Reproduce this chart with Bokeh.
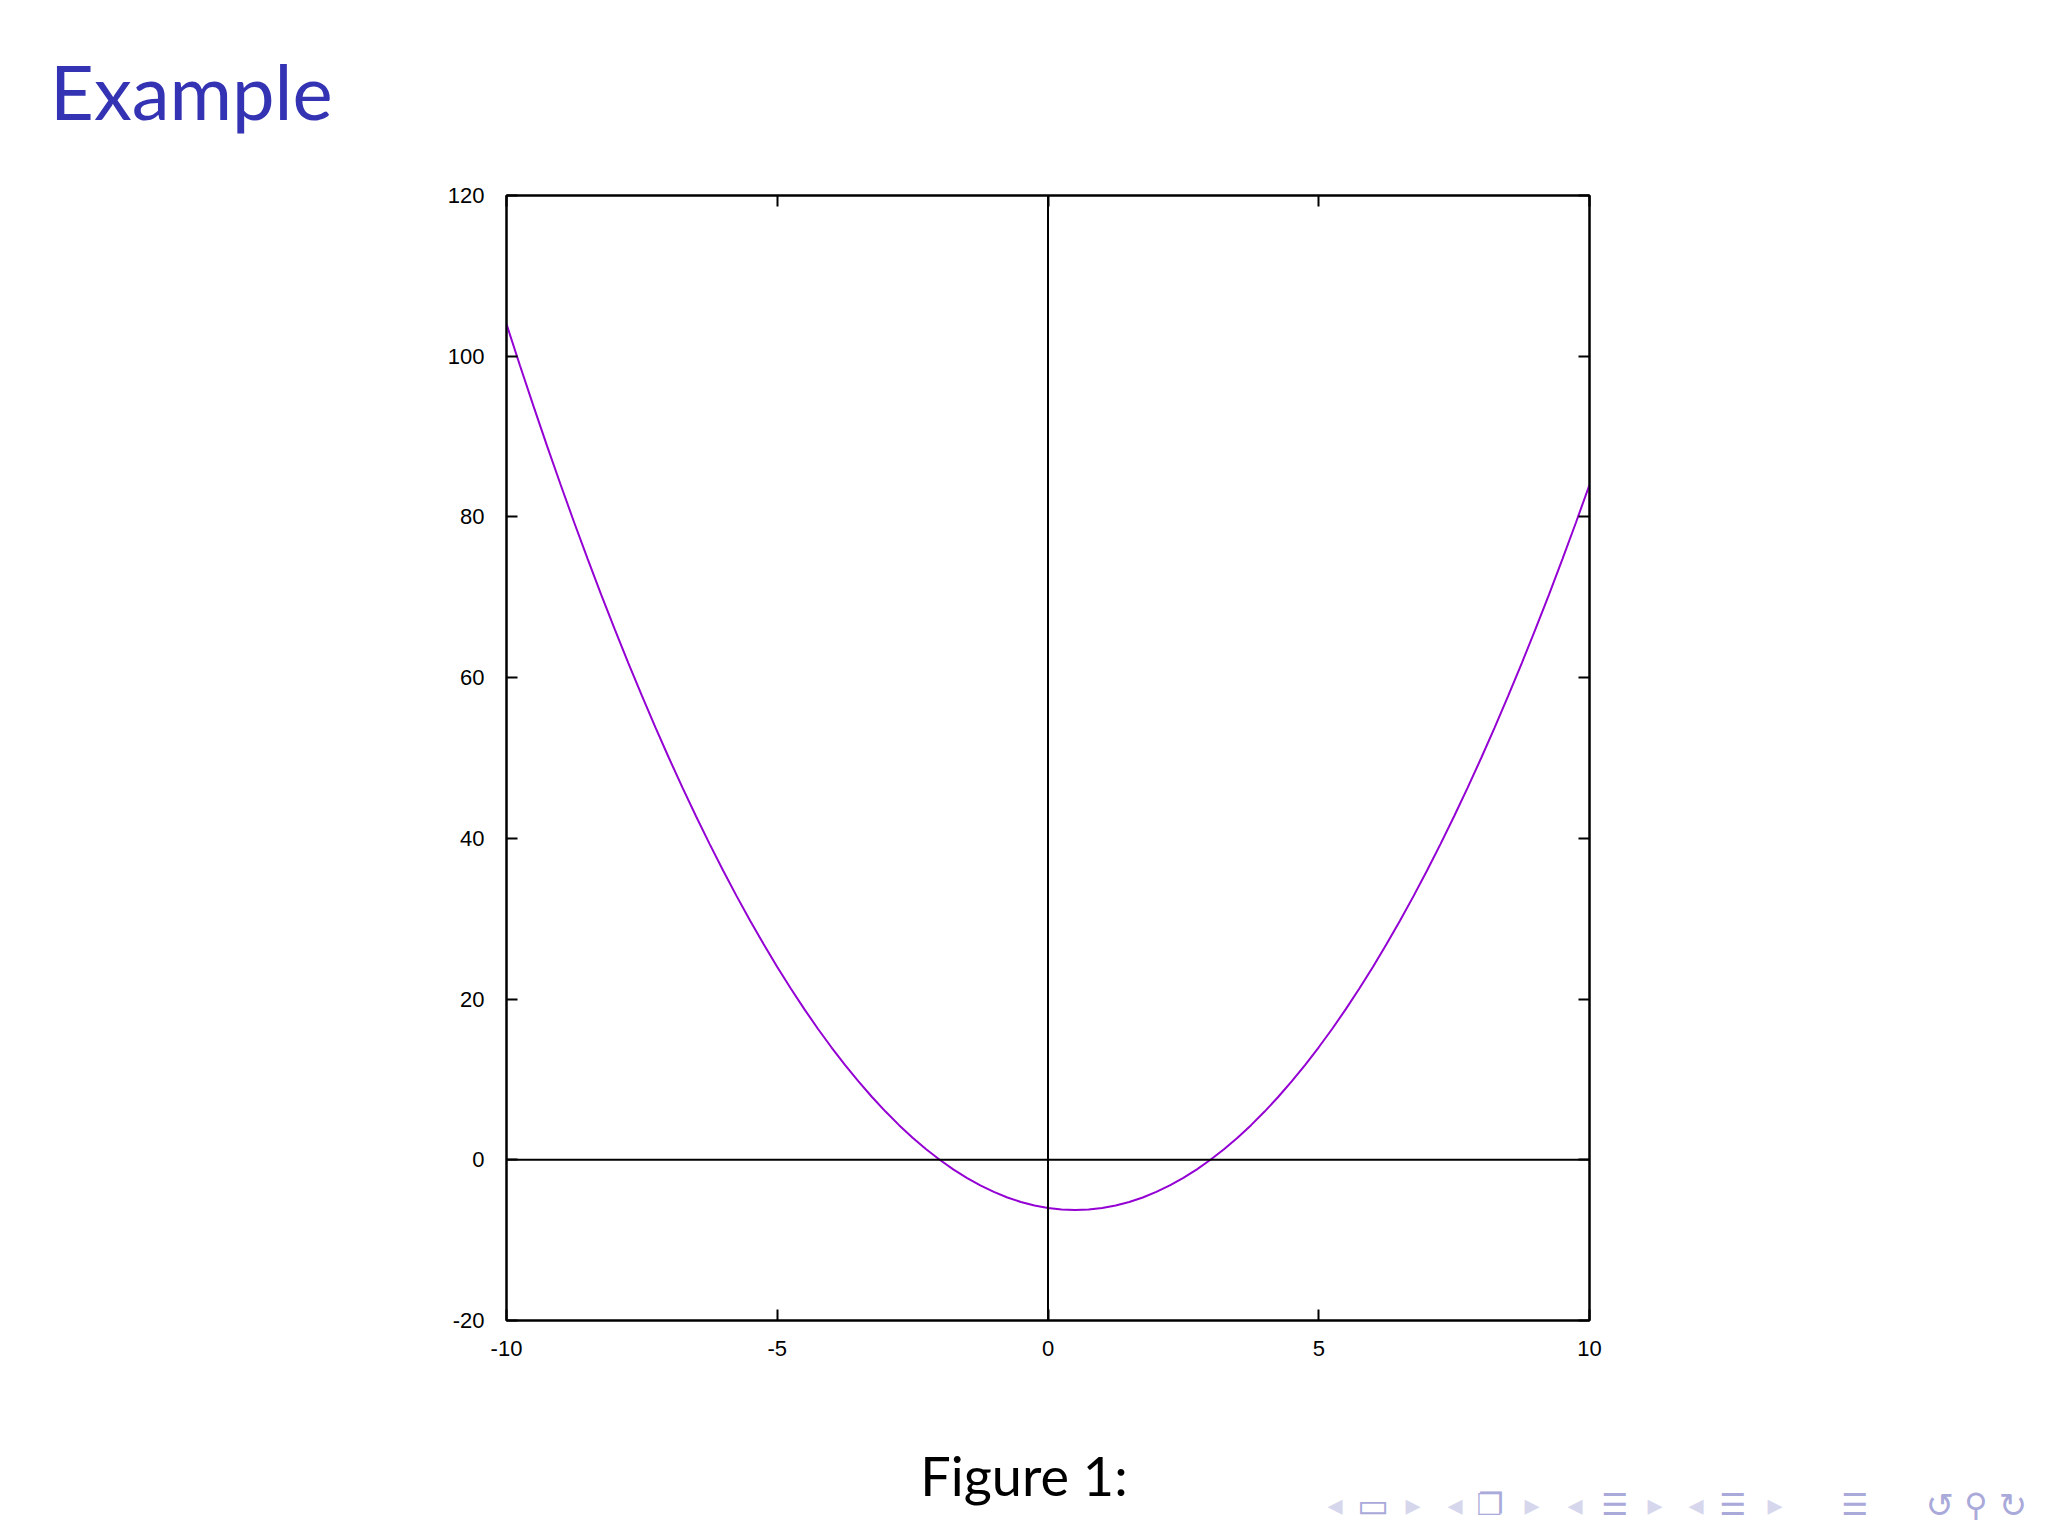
from bokeh.plotting import figure
from bokeh.models import Range1d, LinearAxis, Span, FixedTicker, Div
from bokeh.layouts import column
from bokeh.embed import file_html
from bokeh.resources import INLINE

# ---- data ----
x_vals = [-10, -9.75, -9.5, -9.25, -9, -8.75, -8.5, -8.25, -8, -7.75, -7.5, -7.25, -7,
          -6.75, -6.5, -6.25, -6, -5.75, -5.5, -5.25, -5, -4.75, -4.5, -4.25, -4,
          -3.75, -3.5, -3.25, -3, -2.75, -2.5, -2.25, -2, -1.75, -1.5, -1.25, -1,
          -0.75, -0.5, -0.25, 0, 0.25, 0.5, 0.75, 1, 1.25, 1.5, 1.75, 2, 2.25, 2.5,
          2.75, 3, 3.25, 3.5, 3.75, 4, 4.25, 4.5, 4.75, 5, 5.25, 5.5, 5.75, 6, 6.25,
          6.5, 6.75, 7, 7.25, 7.5, 7.75, 8, 8.25, 8.5, 8.75, 9, 9.25, 9.5, 9.75, 10]
y_vals = [104, 98.81, 93.75, 88.81, 84, 79.31, 74.75, 70.31, 66, 61.81, 57.75, 53.81, 50,
          46.31, 42.75, 39.31, 36, 32.81, 29.75, 26.81, 24, 21.31, 18.75, 16.31, 14,
          11.81, 9.75, 7.81, 6, 4.31, 2.75, 1.31, 0, -1.19, -2.25, -3.19, -4,
          -4.69, -5.25, -5.69, -6, -6.19, -6.25, -6.19, -6, -5.69, -5.25, -4.69, -4, -3.19, -2.25,
          -1.19, 0, 1.31, 2.75, 4.31, 6, 7.81, 9.75, 11.81, 14, 16.31, 18.75, 21.31, 24, 26.81,
          29.75, 32.81, 36, 39.31, 42.75, 46.31, 50, 53.81, 57.75, 61.81, 66, 70.31, 74.75, 79.31, 84]
x_ticks = [-10, -5, 0, 5, 10]
x_tick_labels = ["-10", "-5", "0", "5", "10"]
y_ticks = [-20, 0, 20, 40, 60, 80, 100, 120]
y_tick_labels = ["-20", "0", "20", "40", "60", "80", "100", "120"]
title_text = "Example"
caption_text = "Figure 1:"
nav_glyphs = ["◂", "▭", "▸", "◂", "❐", "▸", "◂", "☰", "▸", "◂", "☰", "▸", "☰", "↺", "⚲", "↻"]

W = 2032
TOP_H = 180
BOT_H = 125
FRAME_L, FRAME_R = 506, 1589
BORDER_T, BORDER_B = 15, 60
FRAME_H = 1125
MAIN_H = BORDER_T + FRAME_H + BORDER_B

# ---- top: slide title ----
top_html = (
    f'<div style="position:relative;width:{W}px;height:{TOP_H}px;background:white;">'
    f'<span style="position:absolute;left:50px;top:53px;font-family:Lato;'
    f'font-size:76px;line-height:76px;color:#3333B3;white-space:nowrap;">{title_text}</span>'
    '</div>'
)
top = Div(text=top_html, width=W, height=TOP_H, margin=(0, 0, 0, 0))

# ---- main chart ----
p = figure(width=W, height=MAIN_H, output_backend="svg", toolbar_location=None,
           x_range=Range1d(-10, 10), y_range=Range1d(-20, 120),
           min_border_left=FRAME_L, min_border_right=W - FRAME_R,
           min_border_top=BORDER_T, min_border_bottom=BORDER_B,
           x_axis_location=None, y_axis_location=None)
p.grid.visible = False
p.background_fill_color = "white"
p.border_fill_color = "white"
p.outline_line_color = "black"
p.outline_line_width = 2


def make_axis(ticks, labels, show_labels):
    ax = LinearAxis(ticker=FixedTicker(ticks=ticks))
    ax.axis_line_color = "black"
    ax.axis_line_width = 2
    ax.major_tick_line_color = "black"
    ax.major_tick_line_width = 2
    ax.major_tick_in = 11
    ax.major_tick_out = 0
    ax.minor_tick_line_color = None
    ax.major_label_overrides = {t: s for t, s in zip(ticks, labels)}
    ax.major_label_text_font = "Liberation Sans"
    ax.major_label_text_font_size = "22px"
    ax.major_label_text_color = "black"
    if not show_labels:
        ax.major_label_text_alpha = 0
        ax.major_label_text_font_size = "1px"
        ax.major_label_standoff = 0
    return ax


xb = make_axis(x_ticks, x_tick_labels, True)
xb.major_label_standoff = 20
p.add_layout(xb, "below")
yl = make_axis(y_ticks, y_tick_labels, True)
yl.major_label_standoff = 22
p.add_layout(yl, "left")
p.add_layout(make_axis(x_ticks, x_tick_labels, False), "above")
p.add_layout(make_axis(y_ticks, y_tick_labels, False), "right")

# zero axes
p.add_layout(Span(location=0, dimension="height", line_color="black", line_width=2))
p.add_layout(Span(location=0, dimension="width", line_color="black", line_width=2))

# curve
p.line(x_vals, y_vals, line_color="#9400D3", line_width=2)

# ---- bottom: caption and beamer navigation symbols ----
bot_top_page = TOP_H + MAIN_H
nav_px = [1335, 1373, 1413, 1455, 1490, 1532, 1575, 1615, 1655, 1696, 1733, 1775, 1855, 1940, 1976, 2013]
nav_light = [True, False, True, True, False, True, True, False, True, True, False, True, False, False, False, False]
nav_size = [30, 34, 30, 30, 30, 30, 30, 30, 30, 30, 30, 30, 30, 34, 32, 34]
spans = []
spans.append(
    f'<span style="position:absolute;left:874px;width:300px;top:{1449 - bot_top_page}px;'
    f'text-align:center;font-family:Lato;font-size:54px;line-height:54px;color:black;'
    f'white-space:nowrap;">{caption_text}</span>')
for g, xp, light, size in zip(nav_glyphs, nav_px, nav_light, nav_size):
    col = "#d6d6ec" if light else "#a9a9da"
    spans.append(
        f'<span style="position:absolute;left:{xp - 20}px;width:40px;'
        f'top:{1505 - bot_top_page - size // 2}px;text-align:center;font-family:\'DejaVu Sans\';'
        f'font-size:{size}px;line-height:{size}px;color:{col};">{g}</span>')
bot_html = (f'<div style="position:relative;width:{W}px;height:{BOT_H}px;background:white;">'
            + "".join(spans) + '</div>')
bot = Div(text=bot_html, width=W, height=BOT_H, margin=(0, 0, 0, 0))

layout = column(top, p, bot, spacing=0)
open("out.html", "w").write(file_html(layout, INLINE))
